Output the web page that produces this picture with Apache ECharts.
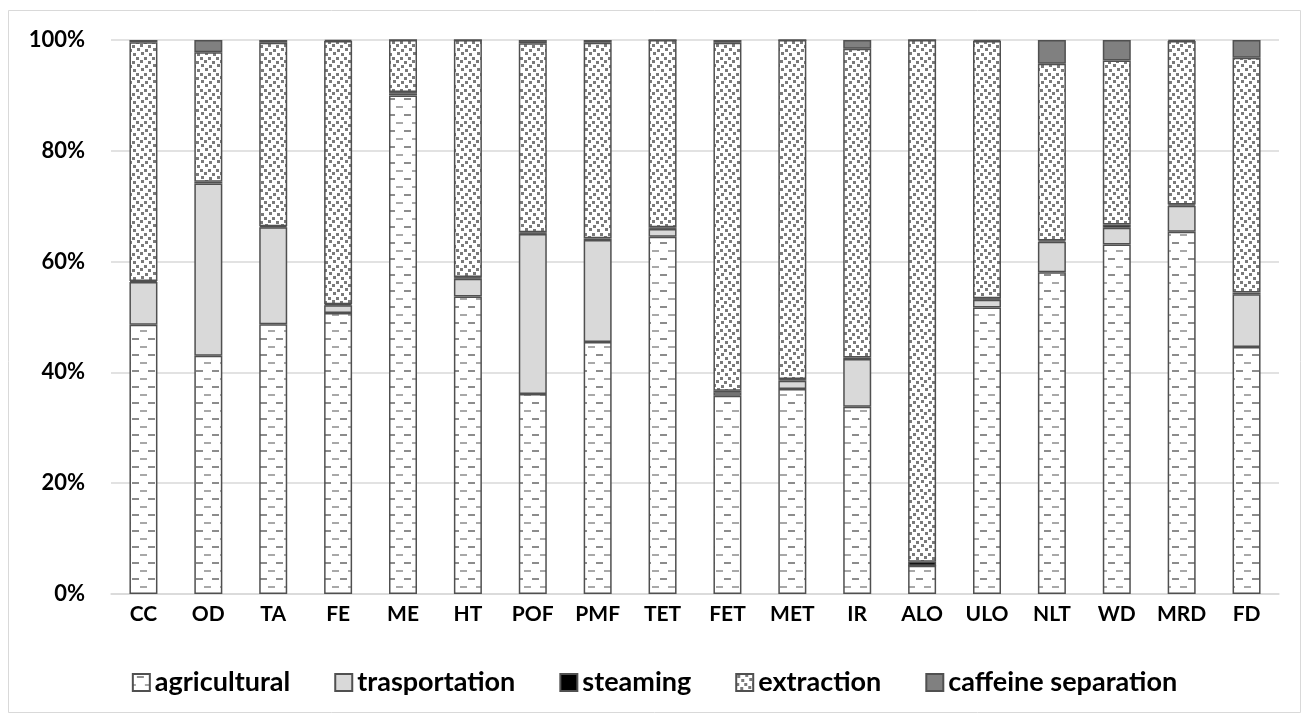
<!DOCTYPE html>
<html>
<head>
<meta charset="utf-8">
<script src="https://cdn.jsdelivr.net/npm/echarts@6/dist/echarts.min.js"></script>
<style>
html, body { margin:0; padding:0; background:#fff; }
#main { width:1309px; height:722px; }
</style>
</head>
<body>
<div id="main"></div>
<script>
var categories = ['CC','OD','TA','FE','ME','HT','POF','PMF','TET','FET','MET','IR','ALO','ULO','NLT','WD','MRD','FD'];
var agricultural   = [48.6, 43.0, 48.7, 50.7, 90.0, 53.7, 36.1, 45.5, 64.5, 35.8, 37.0, 33.8,  5.1, 51.7, 58.1, 63.1, 65.4, 44.6];
var transportation = [ 7.7, 31.1, 17.5,  1.4,  0.3,  3.2, 28.9, 18.4,  1.4,  0.6,  1.5,  8.6,  0.0,  1.4,  5.5,  3.0,  4.7,  9.5];
var steaming       = [ 0.2,  0.3,  0.2,  0.2,  0.3,  0.3,  0.3,  0.3,  0.3,  0.3,  0.3,  0.3,  0.7,  0.3,  0.2,  0.6,  0.2,  0.3];
var extraction     = [43.1, 23.4, 33.1, 47.5,  9.4, 42.8, 34.1, 35.3, 33.8, 62.8, 61.2, 55.7, 94.2, 46.4, 31.9, 29.6, 29.5, 42.4];
var caffeine       = [ 0.4,  2.2,  0.5,  0.2,  0.0,  0.0,  0.6,  0.5,  0.0,  0.5,  0.0,  1.6,  0.0,  0.2,  4.3,  3.7,  0.2,  3.2];

// dashed fill used for the agricultural stack
function dashPattern() {
    var c = document.createElement('canvas');
    c.width = 16; c.height = 16;
    var g = c.getContext('2d');
    g.fillStyle = '#fff';
    g.fillRect(0, 0, 16, 16);
    g.fillStyle = '#8c8c8c';
    g.fillRect(4, 2, 7, 2);
    g.fillStyle = '#a8a8a8';
    g.fillRect(12, 10, 4, 2); g.fillRect(0, 10, 3, 2);
    return c;
}
// speckled fill used for the extraction stack
function dotPattern() {
    var c = document.createElement('canvas');
    c.width = 16; c.height = 16;
    var g = c.getContext('2d');
    g.fillStyle = '#fff';
    g.fillRect(0, 0, 16, 16);
    g.fillStyle = '#7a7a7a';
    g.fillRect(1, 1, 3, 3);
    g.fillRect(9, 0, 3, 3);
    g.fillRect(5, 5, 3, 3);
    g.fillRect(13, 4, 3, 3);
    g.fillRect(0, 9, 3, 3);
    g.fillRect(8, 9, 3, 3);
    g.fillRect(4, 13, 3, 3);
    g.fillRect(12, 12, 3, 3);
    return c;
}

var chart = echarts.init(document.getElementById('main'));
var border = { borderColor: '#505050', borderWidth: 1.5 };
function bar(name, data, color) {
    return {
        name: name,
        type: 'bar',
        stack: 'total',
        barWidth: 28,
        data: data,
        itemStyle: Object.assign({ color: color }, border)
    };
}

var option = {
    backgroundColor: '#fff',
    animation: false,
    textStyle: { fontFamily: 'Lato' },
    graphic: [{
        type: 'rect',
        shape: { x: 8.5, y: 10.5, width: 1292, height: 702 },
        style: { fill: 'none', stroke: '#d9d9d9', lineWidth: 1 }
    }],
    grid: { left: 111, right: 30, top: 40, bottom: 128 },
    legend: {
        bottom: 21,
        left: 'center',
        icon: 'rect',
        itemWidth: 17,
        itemHeight: 17,
        itemGap: 44,
        textStyle: { fontSize: 27, fontWeight: 'bold', color: '#000', fontFamily: 'Lato' },
        data: ['agricultural', 'trasportation', 'steaming', 'extraction', 'caffeine separation']
    },
    xAxis: {
        type: 'category',
        data: categories,
        axisLine: { lineStyle: { color: '#d9d9d9', width: 1.5 } },
        axisTick: { show: false },
        axisLabel: { color: '#000', fontSize: 21, fontWeight: 'bold', margin: 10, interval: 0 }
    },
    yAxis: {
        type: 'value',
        min: 0,
        max: 100,
        interval: 20,
        axisLine: { show: false },
        axisTick: { show: false },
        splitLine: { lineStyle: { color: '#d9d9d9', width: 1.5 } },
        axisLabel: { color: '#000', fontSize: 22, fontWeight: 'bold', margin: 26, formatter: '{value}%' }
    },
    series: [
        bar('agricultural', agricultural, { image: dashPattern(), repeat: 'repeat' }),
        bar('trasportation', transportation, '#d9d9d9'),
        bar('steaming', steaming, '#000'),
        bar('extraction', extraction, { image: dotPattern(), repeat: 'repeat' }),
        bar('caffeine separation', caffeine, '#808080')
    ]
};

chart.setOption(option);
window.addEventListener('resize', function () { chart.resize(); });
</script>
</body>
</html>
